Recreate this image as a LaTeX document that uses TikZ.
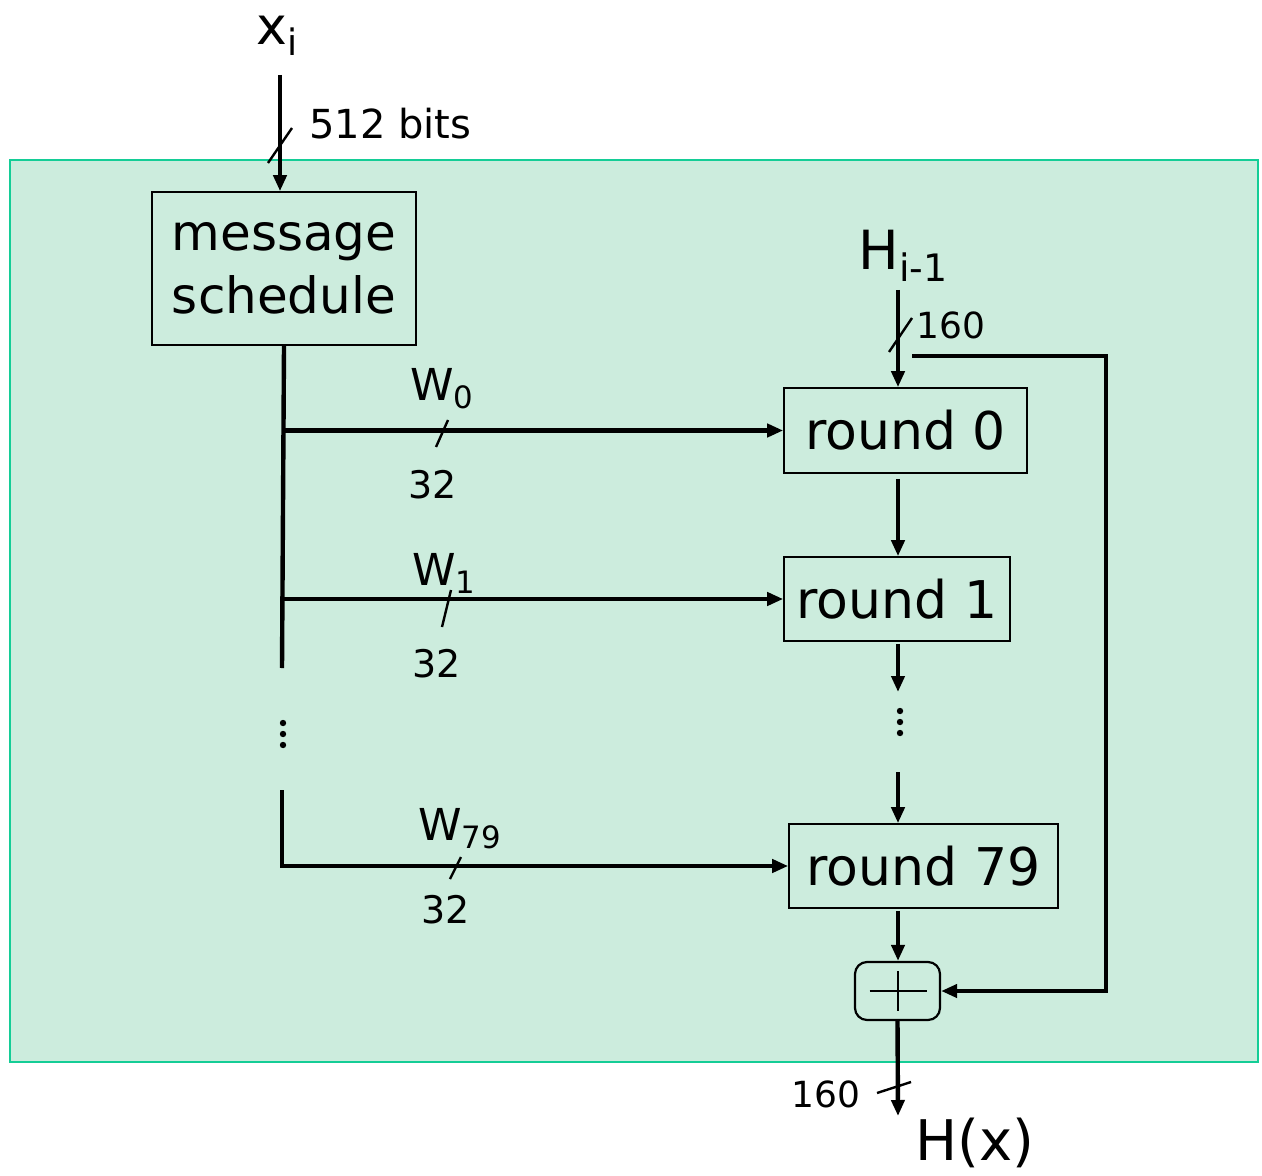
\documentclass[tikz,border=0pt]{standalone}
\usepackage{fontspec}
\setmainfont{DejaVu Sans}
\usetikzlibrary{arrows.meta, positioning}

\definecolor{panelfill}{RGB}{204,236,221}
\definecolor{panelline}{RGB}{20,205,150}

\begin{document}
\begin{tikzpicture}[x=0.5pt, y=-0.5pt, >={Triangle[length=8pt,width=6.5pt]},
    wire/.style={line width=2.2pt},
    slash/.style={line width=1.2pt},
    block/.style={draw, line width=0.8pt, inner sep=0pt, align=center},
    lbl/.style={inner sep=0pt, anchor=base west}]
    % ================= Parameters =================
    \def\busX{284}     % x of the word bus
    \def\chainX{898}   % x of the round chain

    \path[use as bounding box] (0,0) rectangle (1262,1176);

    % ================= Background panel =================
    \draw[fill=panelfill, draw=panelline, line width=1pt] (10,160) rectangle (1258,1062);

    % ================= Blocks =================
    \node[block, minimum width=132pt, minimum height=76.5pt,
          font=\fontsize{25}{31.5}\selectfont] (sched) at (284,268.5) {message\\schedule};
    \node[block, minimum width=121.5pt, minimum height=42.5pt,
          font=\fontsize{26}{30}\selectfont] (rnd0) at (905.5,430.5) {round 0};
    \node[block, minimum width=113pt, minimum height=42pt,
          font=\fontsize{26}{30}\selectfont] (rnd1) at (897,599) {round 1};
    \node[block, minimum width=134.5pt, minimum height=42pt,
          font=\fontsize{26}{30}\selectfont] (rnd79) at (923.5,866) {round 79};
    \node[draw, line width=1.1pt, rounded corners=6pt, minimum width=42.5pt,
          minimum height=29pt] (addbox) at (897.5,991) {};

    % plus sign inside the adder
    \draw[line width=1pt] (addbox.center) ++(-28,0) -- ++(57,0);
    \draw[line width=1pt] (addbox.center) ++(0,-20) -- ++(0,40);

    % ================= Labels =================
    \node[lbl, font=\fontsize{26}{30}\selectfont] (xin) at (256,45) {x\textsubscript{i}};
    \node[lbl, font=\fontsize{20}{24}\selectfont] (bits) at (309,139) {512 bits};
    \node[lbl, font=\fontsize{27}{30}\selectfont] (hprev) at (858,270) {H\textsubscript{i-1}};
    \node[lbl, font=\fontsize{18}{22}\selectfont] (wdin) at (916,338) {160};
    \node[lbl, font=\fontsize{22}{26}\selectfont] (w0) at (410,400) {W\textsubscript{0}};
    \node[lbl, font=\fontsize{19}{23}\selectfont] (n0) at (408,498) {32};
    \node[lbl, font=\fontsize{22}{26}\selectfont] (w1) at (412,585) {W\textsubscript{1}};
    \node[lbl, font=\fontsize{19}{23}\selectfont] (n1) at (412,677) {32};
    \node[lbl, font=\fontsize{22}{26}\selectfont] (w79) at (418,840) {W\textsubscript{79}};
    \node[lbl, font=\fontsize{19}{23}\selectfont] (n79) at (421,923) {32};
    \node[lbl, font=\fontsize{18}{22}\selectfont] (wdout) at (791,1107) {160};
    \node[lbl, font=\fontsize{28}{32}\selectfont] (hout) at (915,1160) {H(x)};

    % ================= Key coordinates =================
    \coordinate (xtop) at (280,75);
    \coordinate (bus) at (\busX,0);
    \coordinate (busend) at (282,668);
    \coordinate (busbot) at (282,790);
    \coordinate (chain) at (\chainX,0);
    \coordinate (htop) at (\chainX,290);
    \coordinate (fbstart) at (912,356);
    \coordinate (fbtop) at (1106,356);
    \coordinate (r1end) at (\chainX,692);
    \coordinate (r79top) at (\chainX,772);
    \coordinate (hend) at (\chainX,1116);
    \coordinate (dotsl) at (283,734);
    \coordinate (dotsr) at (900,722);

    % ================= Message words =================
    \draw[wire, ->] (xtop) -- (xtop |- sched.north);
    \draw[wire] (sched.south -| bus) -- (busend);
    \draw[wire, ->] (rnd0.west -| bus) -- (rnd0.west);
    \draw[wire, ->] (rnd1.west -| bus) -- (rnd1.west);
    \draw[wire, ->] (busbot) |- (rnd79.west);

    % ================= Round chain =================
    \draw[wire, ->] (htop) -- (rnd0.north -| chain);
    \draw[wire, ->] ([yshift=-2.5pt]rnd0.south -| chain) -- (rnd1.north -| chain);
    \draw[wire, ->] ([yshift=-1pt]rnd1.south -| chain) -- (r1end);
    \draw[wire, ->] (r79top) -- (rnd79.north -| chain);
    \draw[wire, ->] ([yshift=-1pt]rnd79.south -| chain) -- (addbox.north -| chain);
    \draw[wire, ->] (fbstart) -- (fbtop) |- (addbox.east);
    \draw[wire, ->] (addbox.south) -- (hend);

    % ellipses
    \foreach \dy in {-11,0,11} {
        \fill (dotsl) ++(0,\dy) circle (1.6pt);
        \fill (dotsr) ++(0,\dy) circle (1.6pt);
    }

    % ================= Width marks =================
    \draw[slash] (268,163) -- (292,128);
    \draw[slash] (889,352) -- (912,318);
    \draw[slash] (436,447) -- (448,420);
    \draw[slash] (442,627) -- (451,590);
    \draw[slash] (450,879) -- (461,857);
    \draw[slash] (877,1093) -- (911,1082);

\end{tikzpicture}
\end{document}
